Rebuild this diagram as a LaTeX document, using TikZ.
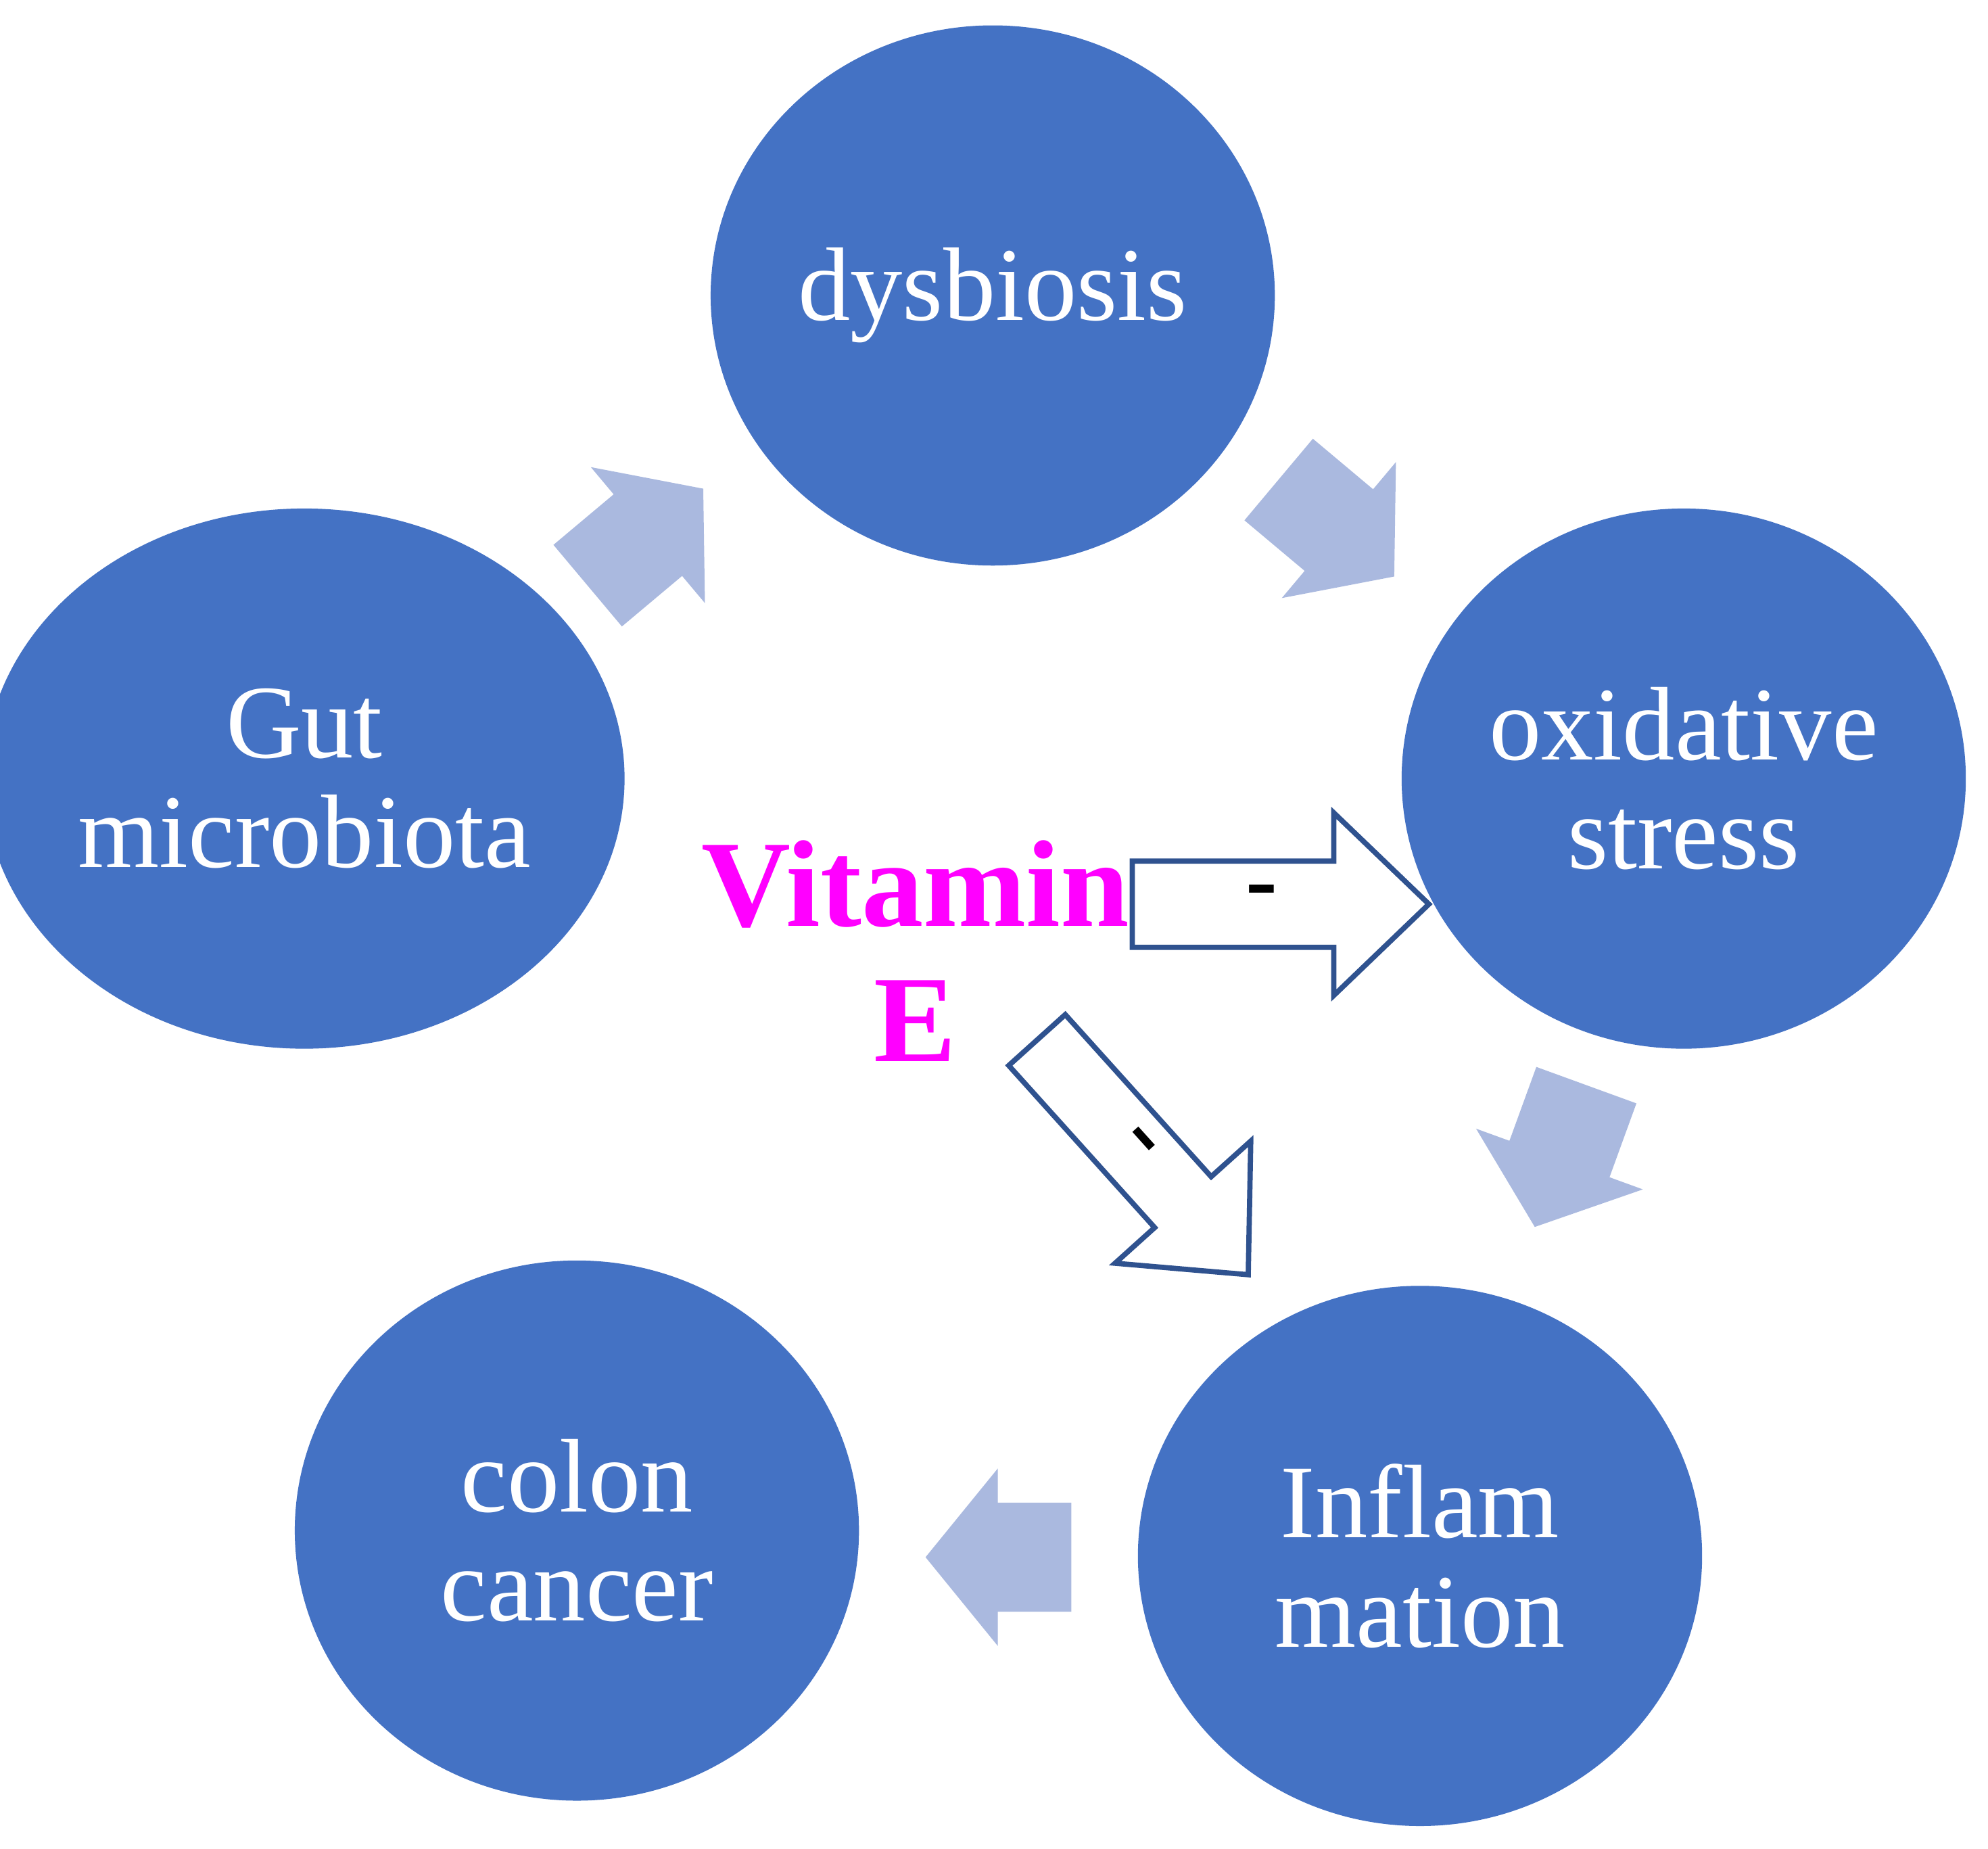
\documentclass[tikz,border=0pt]{standalone}
\usepackage{fontspec}
\setmainfont{Liberation Serif}
\usetikzlibrary{shapes.geometric}
\begin{document}
\begin{tikzpicture}[x=0.01875cm,y=-0.01875cm,
  bub/.style={ellipse,fill=cblue,minimum width=445*0.01875cm,minimum height=426*0.01875cm,inner sep=0pt,text=white,align=center,font=\fontsize{44}{46}\selectfont},
  light/.style={fill=lblue,draw=none},
  outl/.style={fill=white,draw=dblue,line width=2.2pt,line join=miter}]
\definecolor{cblue}{HTML}{4472C4}
\definecolor{lblue}{HTML}{AAB9DF}
\definecolor{dblue}{HTML}{2F528F}
\definecolor{mag}{HTML}{FF00FF}
\useasboundingbox (0,0) rectangle (1568,1458);
\path node[bub] (dys) at (783,233) {dysbiosis}
      node[bub] (gut) at (240,614) {Gut\\microbiota}
      node[bub] (oxi) at (1328,614) {oxidative\\stress}
      node[bub] (inf) at (1120,1227) {Inflam\\mation}
      node[bub] (col) at (455,1207) {colon\\cancer};
% light block arrows
\begin{scope}[shift={(511,422)},rotate=40]
 \fill[light] (-62,-42)--(0,-42)--(0,-70)--(57,0)--(0,70)--(0,42)--(-62,42)--cycle;
\end{scope}
\begin{scope}[shift={(1056,418)},rotate=-40]
 \fill[light] (-62,-42)--(0,-42)--(0,-70)--(57,0)--(0,70)--(0,42)--(-62,42)--cycle;
\end{scope}
\begin{scope}[shift={(1230,914)},rotate=-110]
 \fill[light] (-62,-42)--(0,-42)--(0,-70)--(57,0)--(0,70)--(0,42)--(-62,42)--cycle;
\end{scope}
\begin{scope}[shift={(787,1228)},rotate=180]
 \fill[light] (-58,-43)--(0,-43)--(0,-70)--(57,0)--(0,70)--(0,43)--(-58,43)--cycle;
\end{scope}
% outlined arrows
\begin{scope}[shift={(1052,713)}]
 \draw[outl] (-159,-34)--(0,-34)--(0,-72)--(75,0)--(0,72)--(0,34)--(-159,34)--cycle;
\end{scope}
\node[font=\fontsize{40}{40}\bfseries\selectfont] (m1) at (995,708) {-};
\begin{scope}[shift={(933,948)},rotate=-48]
 \draw[outl] (-172,-30)--(0,-30)--(0,-72)--(77,0)--(0,72)--(0,30)--(-172,30)--cycle;
\end{scope}
\node[font=\fontsize{40}{40}\bfseries\selectfont,rotate=-48] (m2) at (897,903) {-};
\node[text=mag,align=center,font=\fontsize{52}{57}\bfseries\selectfont] (vit) at (722,750) {Vitamin\\E};
\end{tikzpicture}
\end{document}
